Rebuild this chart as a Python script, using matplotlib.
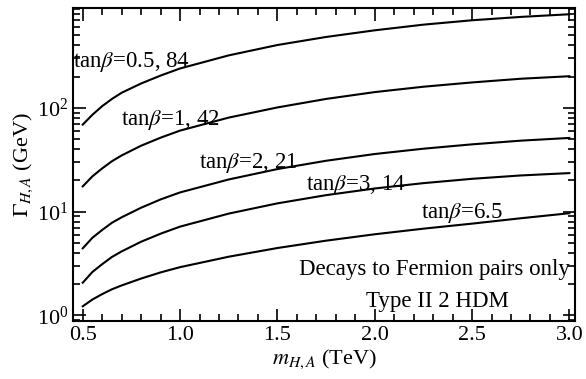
import matplotlib
matplotlib.use("Agg")
import matplotlib.pyplot as plt
import matplotlib.ticker as mticker

# masses in TeV and total widths in GeV
mass = [0.5, 0.55, 0.6, 0.65, 0.7, 0.8, 0.9, 1.0, 1.25, 1.5, 1.75, 2.0, 2.25, 2.5, 2.75, 3.0]
width_tb05 = [69.0, 86, 104, 122, 140, 172, 205, 240, 321, 404, 483, 560, 635, 700, 754, 800]
width_tb1 = [17.5, 21.9, 26.1, 30.6, 34.8, 43.2, 51.6, 60.4, 80.6, 101, 122, 142, 160, 176, 191, 202]
width_tb2 = [4.42, 5.6, 6.65, 7.8, 8.81, 10.9, 13.1, 15.3, 20.4, 25.7, 30.9, 35.9, 40.4, 44.5, 48.3, 51.3]
width_tb3 = [2.06, 2.62, 3.11, 3.65, 4.13, 5.12, 6.12, 7.16, 9.56, 12.0, 14.4, 16.7, 18.8, 20.7, 22.3, 23.5]
width_tb65 = [1.22, 1.42, 1.60, 1.78, 1.94, 2.26, 2.59, 2.91, 3.67, 4.45, 5.24, 6.04, 6.84, 7.65, 8.62, 9.64]

curve_labels = [r"tan$\beta$=0.5, 84", r"tan$\beta$=1, 42", r"tan$\beta$=2, 21",
                r"tan$\beta$=3, 14", r"tan$\beta$=6.5"]
label_pos = [(0.452, 249), (0.695, 68.5), (1.095, 26.3), (1.645, 16.1), (2.24, 8.65)]

plt.rcParams["font.family"] = ["Liberation Serif", "DejaVu Serif"]
plt.rcParams["mathtext.fontset"] = "stix"

fig = plt.figure(figsize=(5.86, 3.79), dpi=100)
ax = fig.add_axes([0.1246, 0.153, 0.857, 0.826])

for w in [width_tb05, width_tb1, width_tb2, width_tb3, width_tb65]:
    ax.plot(mass, w, color="black", lw=1.5)

for txt, (x, y) in zip(curve_labels, label_pos):
    ax.text(x, y, txt, fontsize=16.5, ha="left", va="baseline")

ax.text(3.0, 2.43, "Decays to Fermion pairs only", fontsize=16.5, ha="right", va="baseline")
ax.text(2.32, 1.19, "Type II 2 HDM", fontsize=16.5, ha="center", va="baseline")

ax.set_yscale("log")
ax.set_xlim(0.45, 3.03)
ax.set_ylim(0.88, 920)
ax.xaxis.set_major_locator(mticker.MultipleLocator(0.5))
ax.xaxis.set_minor_locator(mticker.MultipleLocator(0.1))
ax.xaxis.set_major_formatter(mticker.FormatStrFormatter("%.1f"))
ax.yaxis.set_minor_locator(mticker.LogLocator(base=10, subs=range(2, 10)))
ax.yaxis.set_minor_formatter(mticker.NullFormatter())

ax.tick_params(which="both", direction="in", top=True, right=True, labelsize=16, width=1.2)
ax.tick_params(which="major", length=9)
ax.tick_params(which="minor", length=5)
for s in ax.spines.values():
    s.set_linewidth(1.5)

ax.set_xlabel(r"$m_{H,A}$ (TeV)", fontsize=16, labelpad=2)
ax.set_ylabel(r"$\Gamma_{H,A}$ (GeV)", fontsize=16, labelpad=1)

fig.savefig("out.png", dpi=100)
